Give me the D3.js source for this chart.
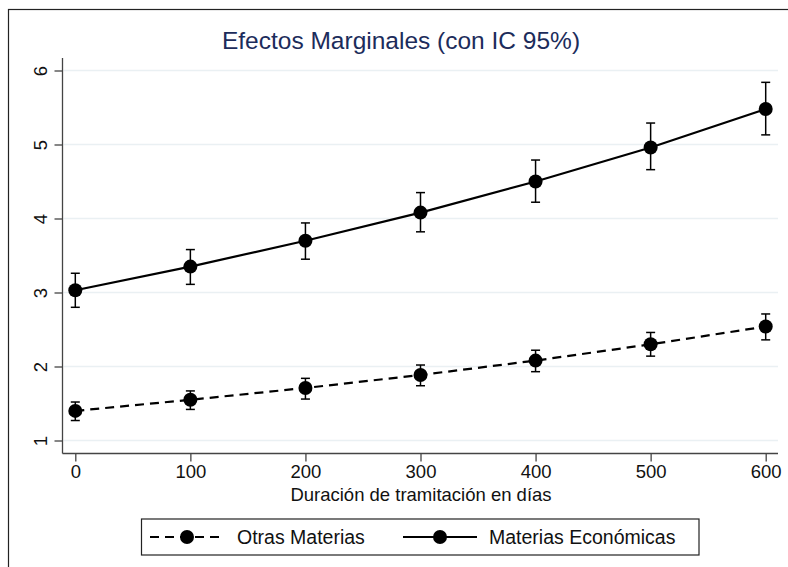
<!DOCTYPE html>
<html>
<head>
<meta charset="utf-8">
<script src="https://cdn.jsdelivr.net/npm/d3@7"></script>
<style>
  body { margin: 0; background: #fff; }
  svg { display: block; }
  text { font-family: "Liberation Sans", Arial, Helvetica, sans-serif; }
</style>
</head>
<body>
<svg id="chart" width="788" height="567"></svg>
<script>
const days = [0, 100, 200, 300, 400, 500, 600];
const otrasMean = [1.40, 1.55, 1.71, 1.885, 2.08, 2.30, 2.54];
const otrasLo   = [1.27, 1.42, 1.56, 1.74, 1.93, 2.14, 2.36];
const otrasHi   = [1.52, 1.67, 1.84, 2.02, 2.22, 2.46, 2.71];
const econMean  = [3.03, 3.35, 3.70, 4.08, 4.50, 4.96, 5.48];
const econLo    = [2.80, 3.11, 3.45, 3.82, 4.22, 4.66, 5.13];
const econHi    = [3.26, 3.58, 3.94, 4.35, 4.79, 5.29, 5.84];
const yTicks = [1, 2, 3, 4, 5, 6];
const xTicks = [0, 100, 200, 300, 400, 500, 600];
const seriesNames = ["Otras Materias", "Materias Económicas"];
const titleText = "Efectos Marginales (con IC 95%)";
const xTitle = "Duración de tramitación en días";

const svg = d3.select("#chart");

// outer frame
svg.append("rect").attr("x", 8.5).attr("y", 9.5).attr("width", 800).attr("height", 600)
  .attr("fill", "#fff").attr("stroke", "#222").attr("stroke-width", 1.2);

const x = d3.scaleLinear().domain([0, 600]).range([75.3, 765.7]);
const y = d3.scaleLinear().domain([1, 6]).range([440.5, 70.5]);

const plotL = 62.5, plotR = 778, plotT = 58, plotB = 453.5;

// gridlines
svg.append("g").selectAll("line").data(yTicks).join("line")
  .attr("x1", plotL + 1).attr("x2", plotR)
  .attr("y1", d => y(d)).attr("y2", d => y(d))
  .attr("stroke", "#eaf0f3").attr("stroke-width", 1.5);

// y axis
const yAxis = svg.append("g").attr("transform", `translate(${plotL},0)`)
  .call(d3.axisLeft(y).tickValues(yTicks).tickSize(8).tickPadding(4).tickFormat(d3.format("d")));
yAxis.select(".domain").attr("d", `M0,${plotT}V${plotB}`).attr("stroke", "#444").attr("stroke-width", 1.3);
yAxis.selectAll(".tick line").attr("stroke", "#444").attr("stroke-width", 1.3);
yAxis.selectAll(".tick text")
  .attr("font-size", 18.5).attr("fill", "#111")
  .attr("text-anchor", "middle")
  .attr("x", 0).attr("dy", 0)
  .attr("transform", "translate(-16,0) rotate(-90)");

// x axis
const xAxis = svg.append("g").attr("transform", `translate(0,${plotB})`)
  .call(d3.axisBottom(x).tickValues(xTicks).tickSize(8).tickPadding(3.5).tickFormat(d3.format("d")));
xAxis.select(".domain").attr("d", `M${plotL},0H${plotR}`).attr("stroke", "#444").attr("stroke-width", 1.3);
xAxis.selectAll(".tick line").attr("stroke", "#444").attr("stroke-width", 1.3);
xAxis.selectAll(".tick text").attr("font-size", 18.5).attr("fill", "#111");

// title
svg.append("text").attr("x", 401).attr("y", 49).attr("text-anchor", "middle")
  .attr("font-size", 24.5).attr("fill", "#1c2c5b").text(titleText);

// x title
svg.append("text").attr("x", 421).attr("y", 501).attr("text-anchor", "middle")
  .attr("font-size", 18.5).attr("fill", "#111").text(xTitle);

const series = [
  { name: seriesNames[0], mean: otrasMean, lo: otrasLo, hi: otrasHi, dash: "9,6" },
  { name: seriesNames[1], mean: econMean, lo: econLo, hi: econHi, dash: null }
];

const line = d3.line().x(d => x(d[0])).y(d => y(d[1]));

series.forEach(s => {
  const pts = days.map((d, i) => [d, s.mean[i]]);
  svg.append("path").datum(pts).attr("d", line)
    .attr("fill", "none").attr("stroke", "#000").attr("stroke-width", 2.2)
    .attr("stroke-dasharray", s.dash);
  const eb = svg.append("g");
  days.forEach((d, i) => {
    const cx = x(d);
    eb.append("line").attr("x1", cx).attr("x2", cx).attr("y1", y(s.lo[i])).attr("y2", y(s.hi[i]))
      .attr("stroke", "#000").attr("stroke-width", 1.5);
    [s.lo[i], s.hi[i]].forEach(v => {
      eb.append("line").attr("x1", cx - 4.5).attr("x2", cx + 4.5).attr("y1", y(v)).attr("y2", y(v))
        .attr("stroke", "#000").attr("stroke-width", 1.5);
    });
  });
  svg.append("g").selectAll("circle").data(pts).join("circle")
    .attr("cx", d => x(d[0])).attr("cy", d => y(d[1])).attr("r", 7).attr("fill", "#000");
});

// legend
const lg = svg.append("g");
lg.append("rect").attr("x", 141.5).attr("y", 519).attr("width", 557.5).attr("height", 36)
  .attr("fill", "#fff").attr("stroke", "#222").attr("stroke-width", 1.2);
const legendItems = [
  { x0: 150, x1: 225, cx: 187, tx: 237, dash: "9,6" },
  { x0: 403, x1: 477, cx: 440, tx: 489, dash: null }
];
legendItems.forEach((it, i) => {
  lg.append("line").attr("x1", it.x0).attr("x2", it.x1).attr("y1", 537).attr("y2", 537)
    .attr("stroke", "#000").attr("stroke-width", 2.2).attr("stroke-dasharray", it.dash);
  lg.append("circle").attr("cx", it.cx).attr("cy", 537).attr("r", 7).attr("fill", "#000");
  lg.append("text").attr("x", it.tx).attr("y", 544).attr("font-size", 19.5).attr("fill", "#111")
    .text(series[i].name);
});
</script>
</body>
</html>
